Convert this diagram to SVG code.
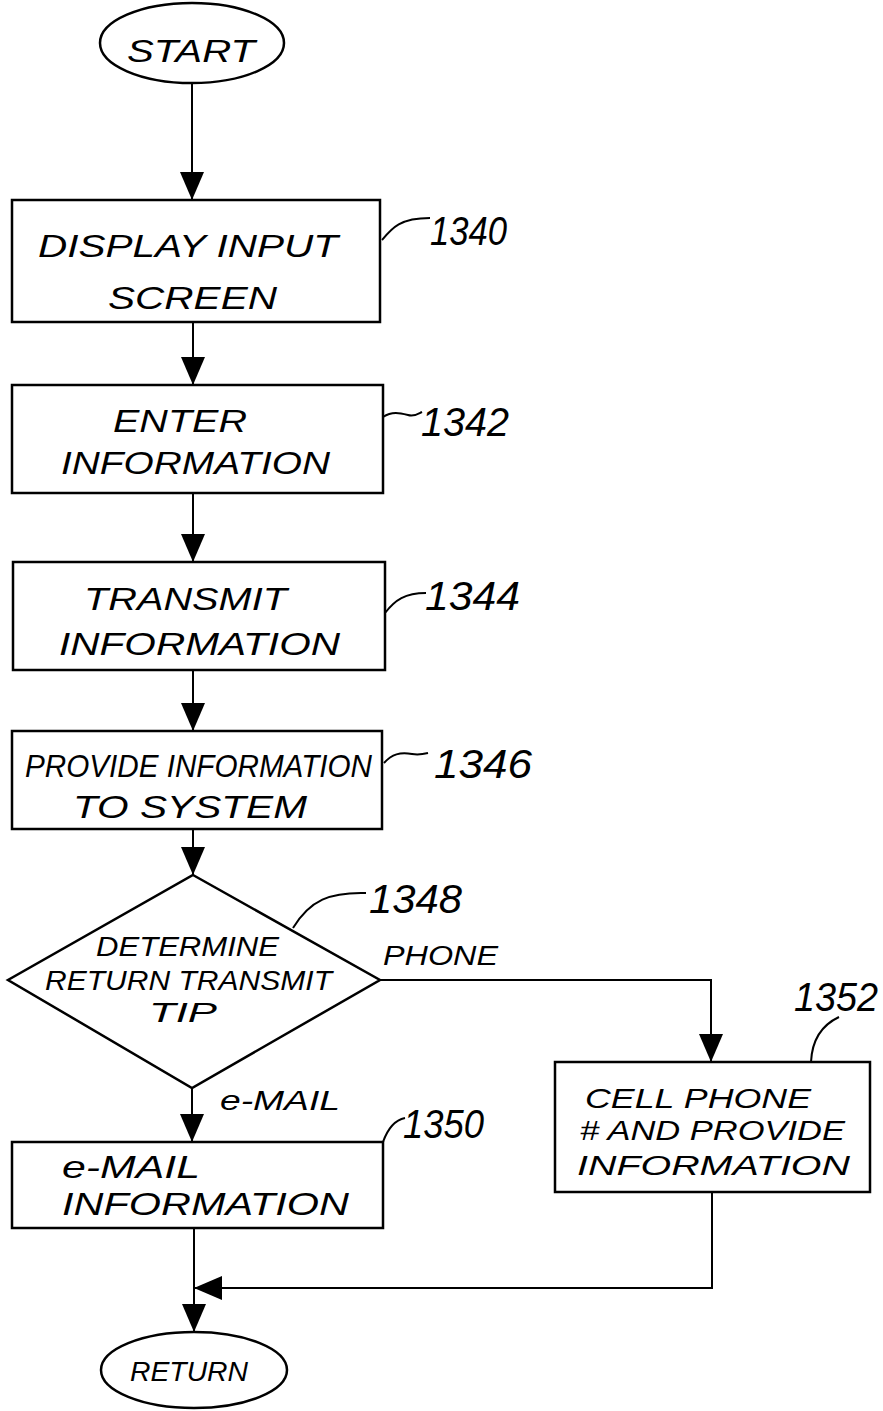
<svg xmlns="http://www.w3.org/2000/svg" width="883" height="1411" viewBox="0 0 883 1411">
<style>
.shape{fill:#fff;stroke:#000;stroke-width:2.5}
.line{fill:none;stroke:#000;stroke-width:2}
.lead{fill:none;stroke:#000;stroke-width:2}
.t{font-family:"Liberation Sans",Arial,sans-serif;font-style:italic;font-size:32px;fill:#000}
.s{font-size:28px}
.n{font-family:"Liberation Sans",Arial,sans-serif;font-style:italic;font-size:40px;fill:#000}
</style>
<defs>
<marker id="ah" markerUnits="userSpaceOnUse" markerWidth="28" markerHeight="24" refX="28" refY="12" orient="auto" viewBox="0 0 28 24">
<path d="M0,0 L28,12 L0,24 Z" fill="#000"/>
</marker>
</defs>
<rect width="883" height="1411" fill="#fff"/>
<g id="connectors">
<line class="line" x1="192" y1="83" x2="192" y2="200" marker-end="url(#ah)"/>
<line class="line" x1="193" y1="322" x2="193" y2="385" marker-end="url(#ah)"/>
<line class="line" x1="193" y1="493" x2="193" y2="562" marker-end="url(#ah)"/>
<line class="line" x1="193" y1="670" x2="193" y2="731" marker-end="url(#ah)"/>
<line class="line" x1="193" y1="829" x2="193" y2="875" marker-end="url(#ah)"/>
<polyline class="line" points="380,980 711,980 711,1062" marker-end="url(#ah)"/>
<line class="line" x1="192" y1="1088" x2="192" y2="1142" marker-end="url(#ah)"/>
<line class="line" x1="194" y1="1228" x2="194" y2="1332" marker-end="url(#ah)"/>
<polyline class="line" points="712,1192 712,1288 194,1288" marker-end="url(#ah)"/>
<text class="t s" x="383" y="965" textLength="115" lengthAdjust="spacingAndGlyphs">PHONE</text>
<text class="t s" x="220" y="1110" textLength="120" lengthAdjust="spacingAndGlyphs">e-MAIL</text>
</g>
<g id="start">
<ellipse class="shape" cx="192" cy="43" rx="92" ry="40"/>
<text class="t" x="127" y="62" textLength="128" lengthAdjust="spacingAndGlyphs">START</text>
</g>
<g id="n1340">
<rect class="shape" x="12" y="200" width="368" height="122"/>
<text class="t" x="38" y="257" textLength="300" lengthAdjust="spacingAndGlyphs">DISPLAY INPUT</text>
<text class="t" x="108" y="309" textLength="169" lengthAdjust="spacingAndGlyphs">SCREEN</text>
<path class="lead" d="M382,240 C392,228 400,218 430,218"/>
<text class="n" x="430" y="245" textLength="77" lengthAdjust="spacingAndGlyphs">1340</text>
</g>
<g id="n1342">
<rect class="shape" x="12" y="385" width="371" height="108"/>
<text class="t" x="113" y="432" textLength="134" lengthAdjust="spacingAndGlyphs">ENTER</text>
<text class="t" x="61" y="474" textLength="269" lengthAdjust="spacingAndGlyphs">INFORMATION</text>
<path class="lead" d="M383,417 C392,411 400,413 408,415 C414,417 418,414 422,412"/>
<text class="n" x="421" y="436" textLength="88" lengthAdjust="spacingAndGlyphs">1342</text>
</g>
<g id="n1344">
<rect class="shape" x="13" y="562" width="372" height="108"/>
<text class="t" x="84" y="610" textLength="203" lengthAdjust="spacingAndGlyphs">TRANSMIT</text>
<text class="t" x="59" y="655" textLength="281" lengthAdjust="spacingAndGlyphs">INFORMATION</text>
<path class="lead" d="M385,613 C395,600 405,593 426,593"/>
<text class="n" x="425" y="610" textLength="95" lengthAdjust="spacingAndGlyphs">1344</text>
</g>
<g id="n1346">
<rect class="shape" x="12" y="731" width="370" height="98"/>
<text class="t" x="25" y="777" textLength="347" lengthAdjust="spacingAndGlyphs">PROVIDE INFORMATION</text>
<text class="t" x="73" y="818" textLength="234" lengthAdjust="spacingAndGlyphs">TO SYSTEM</text>
<path class="lead" d="M384,763 C392,754 400,752 412,754 C418,755 424,754 428,753"/>
<text class="n" x="434" y="778" textLength="98" lengthAdjust="spacingAndGlyphs">1346</text>
</g>
<g id="n1348">
<polygon class="shape" points="193,875 380,980 192,1088 8,980"/>
<text class="t s" x="96" y="956" textLength="183" lengthAdjust="spacingAndGlyphs">DETERMINE</text>
<text class="t s" x="45" y="990" textLength="287" lengthAdjust="spacingAndGlyphs">RETURN TRANSMIT</text>
<text class="t s" x="149" y="1022" textLength="68" lengthAdjust="spacingAndGlyphs">TIP</text>
<path class="lead" d="M293,928 C310,900 330,892 366,893"/>
<text class="n" x="369" y="913" textLength="93" lengthAdjust="spacingAndGlyphs">1348</text>
</g>
<g id="n1352">
<rect class="shape" x="555" y="1062" width="315" height="130"/>
<text class="t s" x="585" y="1108" textLength="226" lengthAdjust="spacingAndGlyphs">CELL PHONE</text>
<text class="t s" x="580" y="1140" textLength="265" lengthAdjust="spacingAndGlyphs"># AND PROVIDE</text>
<text class="t s" x="577" y="1175" textLength="273" lengthAdjust="spacingAndGlyphs">INFORMATION</text>
<path class="lead" d="M811,1062 C812,1040 822,1025 839,1017"/>
<text class="n" x="794" y="1011" textLength="84" lengthAdjust="spacingAndGlyphs">1352</text>
</g>
<g id="n1350">
<rect class="shape" x="12" y="1142" width="371" height="86"/>
<text class="t" x="62" y="1178" textLength="138" lengthAdjust="spacingAndGlyphs">e-MAIL</text>
<text class="t" x="62" y="1215" textLength="287" lengthAdjust="spacingAndGlyphs">INFORMATION</text>
<path class="lead" d="M383,1142 C388,1128 395,1120 405,1118"/>
<text class="n" x="403" y="1138" textLength="81" lengthAdjust="spacingAndGlyphs">1350</text>
</g>
<g id="return">
<ellipse class="shape" cx="194" cy="1370" rx="93" ry="38"/>
<text class="t s" x="130" y="1381" textLength="118" lengthAdjust="spacingAndGlyphs">RETURN</text>
</g>
</svg>
